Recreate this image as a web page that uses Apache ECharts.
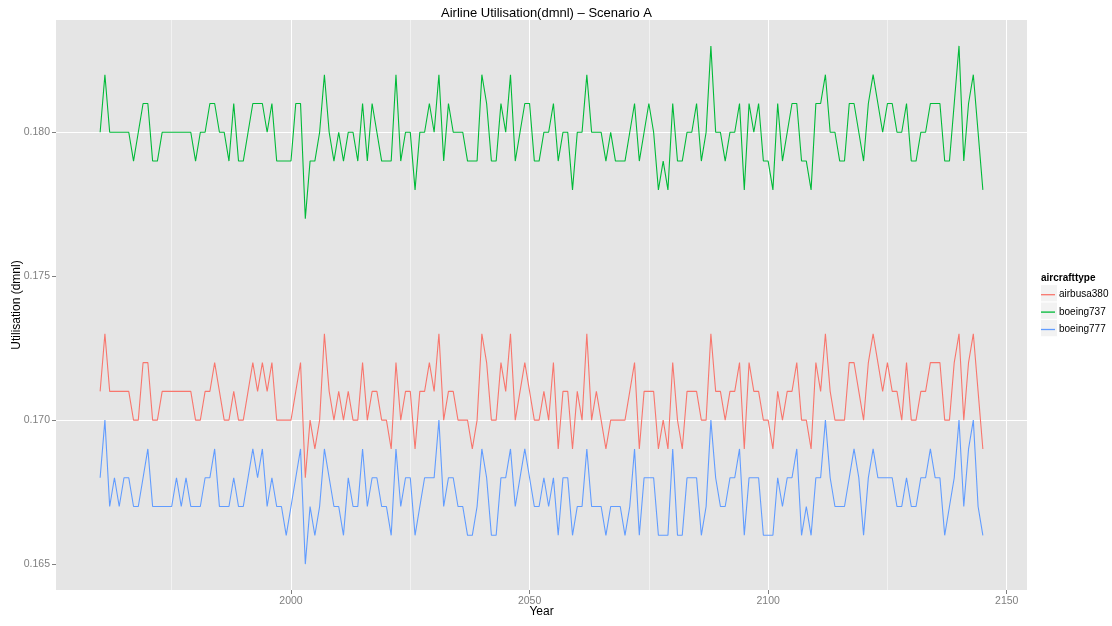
<!DOCTYPE html>
<html>
<head>
<meta charset="utf-8">
<title>Airline Utilisation</title>
<script src="https://cdn.jsdelivr.net/npm/echarts@6/dist/echarts.min.js"></script>
<style>
  html, body { margin: 0; padding: 0; background: #ffffff; }
  #chart { width: 1112px; height: 626px; }
</style>
</head>
<body>
<div id="chart"></div>
<script>
// Yearly utilisation (dmnl) per aircraft type, 1960 onwards
const firstYear = 1960;

const airbusa380 = [
  0.171,0.173,0.171,0.171,0.171,0.171,0.171,0.170,0.170,0.172,
  0.172,0.170,0.170,0.171,0.171,0.171,0.171,0.171,0.171,0.171,
  0.170,0.170,0.171,0.171,0.172,0.171,0.170,0.170,0.171,0.170,
  0.170,0.171,0.172,0.171,0.172,0.171,0.172,0.170,0.170,0.170,
  0.170,0.171,0.172,0.168,0.170,0.169,0.170,0.173,0.171,0.170,
  0.171,0.170,0.171,0.170,0.170,0.172,0.170,0.171,0.171,0.170,
  0.170,0.169,0.172,0.170,0.171,0.171,0.169,0.171,0.171,0.172,
  0.171,0.173,0.170,0.171,0.171,0.170,0.170,0.170,0.169,0.170,
  0.173,0.172,0.170,0.170,0.172,0.171,0.173,0.170,0.171,0.172,
  0.171,0.170,0.170,0.171,0.170,0.172,0.169,0.171,0.171,0.169,
  0.171,0.170,0.173,0.170,0.171,0.170,0.169,0.170,0.170,0.170,
  0.170,0.171,0.172,0.169,0.171,0.171,0.171,0.169,0.170,0.169,
  0.172,0.170,0.169,0.171,0.171,0.171,0.170,0.170,0.173,0.171,
  0.171,0.170,0.171,0.171,0.172,0.169,0.172,0.171,0.171,0.170,
  0.170,0.169,0.171,0.170,0.171,0.171,0.172,0.170,0.170,0.169,
  0.172,0.171,0.173,0.171,0.170,0.170,0.170,0.172,0.172,0.171,
  0.170,0.172,0.173,0.172,0.171,0.172,0.171,0.171,0.170,0.172,
  0.170,0.170,0.171,0.171,0.172,0.172,0.172,0.170,0.170,0.172,
  0.173,0.170,0.172,0.173,0.171,0.169
];

const boeing737 = [
  0.180,0.182,0.180,0.180,0.180,0.180,0.180,0.179,0.180,0.181,
  0.181,0.179,0.179,0.180,0.180,0.180,0.180,0.180,0.180,0.180,
  0.179,0.180,0.180,0.181,0.181,0.180,0.180,0.179,0.181,0.179,
  0.179,0.180,0.181,0.181,0.181,0.180,0.181,0.179,0.179,0.179,
  0.179,0.181,0.181,0.177,0.179,0.179,0.180,0.182,0.180,0.179,
  0.180,0.179,0.180,0.180,0.179,0.181,0.179,0.181,0.180,0.179,
  0.179,0.179,0.182,0.179,0.180,0.180,0.178,0.180,0.180,0.181,
  0.180,0.182,0.179,0.181,0.180,0.180,0.180,0.179,0.179,0.179,
  0.182,0.181,0.179,0.179,0.181,0.180,0.182,0.179,0.180,0.181,
  0.181,0.179,0.179,0.180,0.180,0.181,0.179,0.180,0.180,0.178,
  0.180,0.180,0.182,0.180,0.180,0.180,0.179,0.180,0.179,0.179,
  0.179,0.180,0.181,0.179,0.180,0.181,0.180,0.178,0.179,0.178,
  0.181,0.179,0.179,0.180,0.180,0.181,0.179,0.180,0.183,0.180,
  0.180,0.179,0.180,0.180,0.181,0.178,0.181,0.180,0.181,0.179,
  0.179,0.178,0.181,0.179,0.180,0.181,0.181,0.179,0.179,0.178,
  0.181,0.181,0.182,0.180,0.180,0.179,0.179,0.181,0.181,0.180,
  0.179,0.181,0.182,0.181,0.180,0.181,0.181,0.180,0.180,0.181,
  0.179,0.179,0.180,0.180,0.181,0.181,0.181,0.179,0.179,0.181,
  0.183,0.179,0.181,0.182,0.180,0.178
];

const boeing777 = [
  0.168,0.170,0.167,0.168,0.167,0.168,0.168,0.167,0.167,0.168,
  0.169,0.167,0.167,0.167,0.167,0.167,0.168,0.167,0.168,0.167,
  0.167,0.167,0.168,0.168,0.169,0.167,0.167,0.167,0.168,0.167,
  0.167,0.168,0.169,0.168,0.169,0.167,0.168,0.167,0.167,0.166,
  0.167,0.168,0.169,0.165,0.167,0.166,0.167,0.169,0.168,0.167,
  0.167,0.166,0.168,0.167,0.167,0.169,0.167,0.168,0.168,0.167,
  0.167,0.166,0.169,0.167,0.168,0.168,0.166,0.167,0.168,0.168,
  0.168,0.170,0.167,0.168,0.168,0.167,0.167,0.166,0.166,0.167,
  0.169,0.168,0.166,0.166,0.168,0.168,0.169,0.167,0.168,0.169,
  0.168,0.167,0.167,0.168,0.167,0.168,0.166,0.168,0.168,0.166,
  0.167,0.167,0.169,0.167,0.167,0.167,0.166,0.167,0.167,0.167,
  0.166,0.167,0.169,0.166,0.168,0.168,0.168,0.166,0.166,0.166,
  0.169,0.166,0.166,0.168,0.168,0.168,0.166,0.167,0.170,0.168,
  0.167,0.167,0.168,0.168,0.169,0.166,0.168,0.168,0.168,0.166,
  0.166,0.166,0.168,0.167,0.168,0.168,0.169,0.166,0.167,0.166,
  0.168,0.168,0.170,0.168,0.167,0.167,0.167,0.168,0.169,0.168,
  0.166,0.168,0.169,0.168,0.168,0.168,0.168,0.167,0.167,0.168,
  0.167,0.167,0.168,0.168,0.169,0.168,0.168,0.166,0.167,0.168,
  0.170,0.167,0.169,0.170,0.167,0.166
];

const seriesNames = ['airbusa380', 'boeing737', 'boeing777'];
const seriesColors = ['#F8766D', '#00BA38', '#619CFF'];

// Axis breaks: major ticks carry labels, minor ones only a grid line
const xMajor = [2000, 2050, 2100, 2150];
const xMinor = [1975, 2025, 2075, 2125];
const yMajor = [0.165, 0.170, 0.175, 0.180];
const yMinor = [0.1675, 0.1725, 0.1775, 0.1825];

const years = airbusa380.map((_, i) => firstYear + i);
const allValues = [...airbusa380, ...boeing737, ...boeing777];

// 5% padding on each side of the data range
const xSpan = years[years.length - 1] - years[0];
const xMin = years[0] - 0.05 * xSpan;
const xMax = years[years.length - 1] + 0.05 * xSpan;
const yLo = Math.min(...allValues), yHi = Math.max(...allValues);
const ySpan = yHi - yLo;
const yMin = yLo - 0.05 * ySpan;
const yMax = yHi + 0.05 * ySpan;

const FONT = 'Liberation Sans, Arial, Helvetica, sans-serif';
const TICK_COLOR = '#7F7F7F';

function gridLines() {
  const major = { color: '#FFFFFF', width: 1, type: 'solid' };
  const minor = { color: '#F2F2F2', width: 1, type: 'solid' };
  return [
    ...xMinor.map(v => ({ xAxis: v, lineStyle: minor })),
    ...yMinor.map(v => ({ yAxis: v, lineStyle: minor })),
    ...xMajor.map(v => ({ xAxis: v, lineStyle: major })),
    ...yMajor.map(v => ({ yAxis: v, lineStyle: major }))
  ];
}

const dataSets = [airbusa380, boeing737, boeing777];

const lineSeries = seriesNames.map((name, k) => ({
  name: name,
  type: 'line',
  data: years.map((yr, i) => [yr, dataSets[k][i]]),
  showSymbol: false,
  symbol: 'none',
  lineStyle: { width: 1.1, color: seriesColors[k] },
  itemStyle: { color: seriesColors[k] },
  z: 3,
  silent: true
}));

const chart = echarts.init(document.getElementById('chart'), null, { renderer: 'canvas' });

chart.setOption({
  animation: false,
  backgroundColor: '#FFFFFF',
  color: seriesColors,
  textStyle: { fontFamily: FONT },
  title: {
    text: 'Airline Utilisation(dmnl) \u2013 Scenario A',
    left: 541.5,
    textAlign: 'center',
    top: 2,
    textStyle: { fontFamily: FONT, fontSize: 13, fontWeight: 'normal', color: '#000000' }
  },
  grid: {
    left: 56, right: 85, top: 20, bottom: 36,
    outerBoundsMode: 'none',
    containLabel: false,
    show: true, backgroundColor: '#E5E5E5', borderWidth: 0
  },
  xAxis: {
    type: 'value',
    min: xMin, max: xMax,
    name: 'Year',
    nameLocation: 'middle',
    nameGap: 16,
    nameMoveOverlap: false,
    nameTextStyle: { fontFamily: FONT, fontSize: 12, color: '#000000' },
    axisLine: { show: false },
    splitLine: { show: false },
    axisTick: { show: true, customValues: xMajor, length: 4, lineStyle: { color: TICK_COLOR, width: 1 } },
    axisLabel: {
      customValues: xMajor, color: TICK_COLOR, fontSize: 10.5, fontFamily: FONT, margin: 6,
      formatter: v => String(v)
    }
  },
  yAxis: {
    type: 'value',
    min: yMin, max: yMax,
    name: 'Utilisation (dmnl)',
    nameLocation: 'middle',
    nameGap: 33,
    nameMoveOverlap: false,
    nameRotate: 90,
    nameTextStyle: { fontFamily: FONT, fontSize: 12, color: '#000000' },
    axisLine: { show: false },
    splitLine: { show: false },
    axisTick: { show: true, customValues: yMajor, length: 4, lineStyle: { color: TICK_COLOR, width: 1 } },
    axisLabel: {
      customValues: yMajor, color: TICK_COLOR, fontSize: 10.5, fontFamily: FONT, margin: 6,
      formatter: v => v.toFixed(3)
    }
  },
  legend: {
    data: seriesNames,
    orient: 'vertical',
    left: 1041,
    top: 286,
    padding: 0,
    itemWidth: 14,
    itemHeight: 1.3,
    itemGap: 0,
    icon: 'rect',
    selectedMode: false,
    textStyle: { fontFamily: FONT, fontSize: 10, color: '#000000', lineHeight: 17.4, padding: [0, 0, 0, -1] }
  },
  graphic: [
    {
      type: 'text', left: 1041, top: 273, z: 5,
      style: { text: 'aircrafttype', font: 'bold 10px ' + FONT, fill: '#000000' }
    },
    ...seriesNames.map((n, i) => ({
      type: 'rect', z: 1,
      shape: { x: 1040.5, y: 284.6 + i * 17.4, width: 17, height: 17.4 },
      style: { fill: '#F2F2F2', stroke: '#FFFFFF', lineWidth: 1 }
    }))
  ],
  series: [
    {
      name: 'grid',
      type: 'line',
      data: [],
      z: 1,
      silent: true,
      markLine: {
        z: 1,
        silent: true,
        animation: false,
        symbol: ['none', 'none'],
        label: { show: false },
        emphasis: { disabled: true },
        data: gridLines()
      }
    },
    ...lineSeries
  ]
});
</script>
</body>
</html>
